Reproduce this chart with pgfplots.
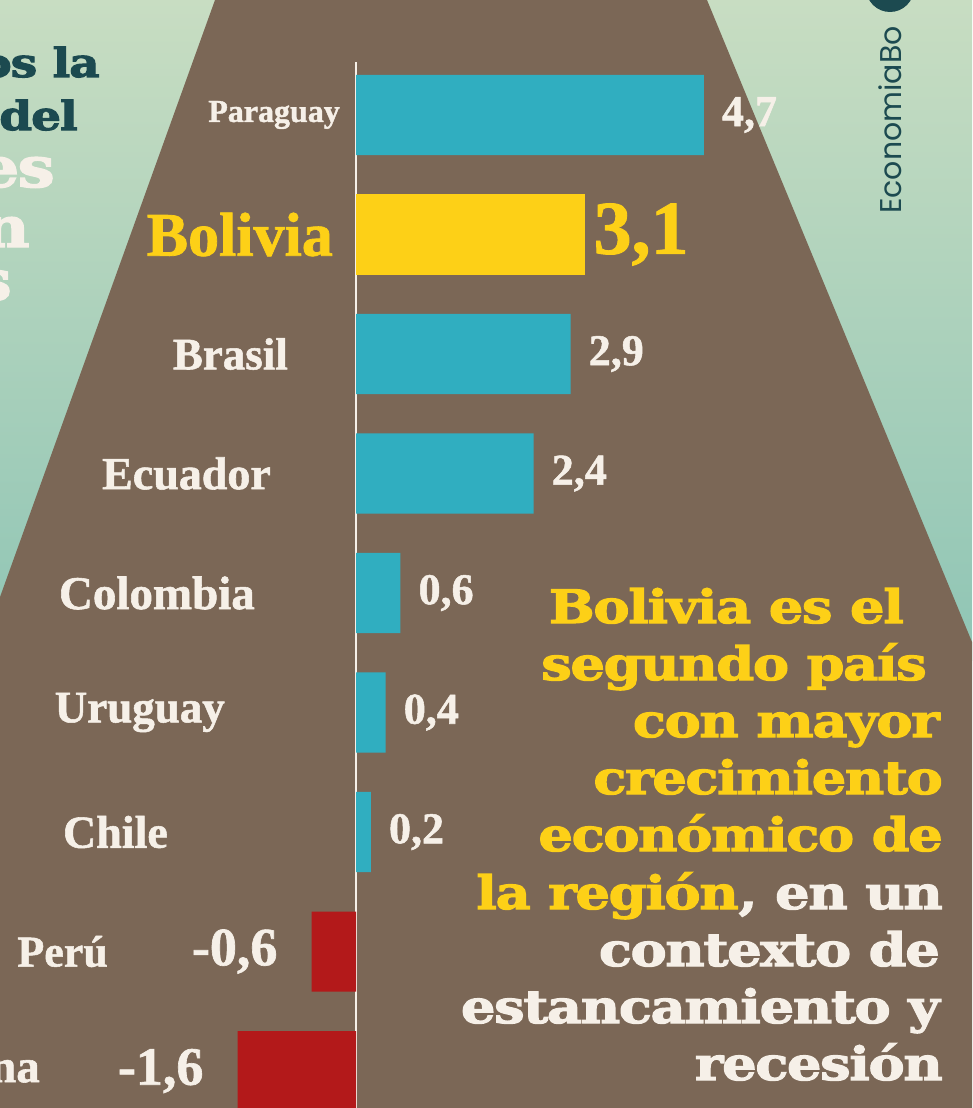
\documentclass[border=0pt]{standalone}
\usepackage{pgfplots}
\pgfplotsset{compat=1.18}
\usepackage{fontspec}
\setmainfont{Liberation Serif}[BoldFeatures={FakeBold=1.2}]
\newfontfamily\annot{DejaVu Serif}[BoldFeatures={FakeBold=2.5, LetterSpace=-3, FakeStretch=1.18}]
\newfontfamily\logofont{Poppins}
\definecolor{bgtop}{HTML}{C8DDC2}
\definecolor{bgbot}{HTML}{8FC5B5}
\definecolor{brownbg}{HTML}{7B6756}
\definecolor{cyanbar}{HTML}{30AEC0}
\definecolor{yelbar}{HTML}{FDD017}
\definecolor{redbar}{HTML}{B3191A}
\definecolor{cream}{HTML}{F6F0E8}
\definecolor{darkteal}{HTML}{1C4A50}
\newcommand{\fs}[1]{\fontsize{#1}{#1}\selectfont}
\begin{document}
\begin{tikzpicture}[x=1pt,y=1pt]
\useasboundingbox (0,0) rectangle (972,-1108);
\clip (0,0) rectangle (972,-1108);
\shade[top color=bgtop, bottom color=bgbot] (0,0) rectangle (972,-660);
\fill[brownbg] (215,0) -- (707,0) -- (972,-642) -- (972,-1108) -- (0,-1108) -- (0,-597) -- cycle;
% cut-off title on the left
\node[anchor=base east, inner sep=0, text=darkteal, font=\annot\bfseries\fs{40}] at (100,-77) {os la};
\node[anchor=base east, inner sep=0, text=darkteal, font=\annot\bfseries\fs{40}] at (78,-130) {del};
\node[anchor=base east, inner sep=0, text=cream, font=\annot\bfseries\fs{56}] at (55,-187) {es};
\node[anchor=base east, inner sep=0, text=cream, font=\annot\bfseries\fs{56}] at (30,-247) {n};
\node[anchor=base east, inner sep=0, text=cream, font=\annot\bfseries\fs{56}] at (12,-300) {s};
% logo
\fill[darkteal] (890,12) circle (24);
\node[rotate=90, text=darkteal, font=\logofont\fs{30}, inner sep=0] at (890,-120) {EconomiaBo};
\begin{axis}[at={(0,0)}, anchor=north west, scale only axis,
  width=972pt, height=1108pt,
  xmin=-4.811, xmax=8.324, ymin=-0.962, ymax=8.310, y dir=reverse,
  axis x line=none, axis y line=center, y axis line style={draw=none},
  xtick=\empty, ytick={0,1,2,3,4,5,6,7,8}, major tick length=0pt,
  yticklabels={
    {\fs{32}Paraguay\kern16pt},
    {\color{yelbar}\fs{62}Bolivia\kern23pt},
    {\fs{45}Brasil\kern68pt},
    {\fs{46}Ecuador\kern85pt},
    {\fs{47}Colombia\kern101pt},
    {\fs{45}Uruguay\kern131pt},
    {\fs{46}Chile\kern188pt},
    {\fs{44}Perú\kern248pt},
    {\fs{47}Argentina\kern316pt}},
  yticklabel style={anchor=east, inner sep=0pt, text=cream, font=\bfseries},
  xbar, bar width=0.67,
  nodes near coords,
  /pgf/number format/use comma,
  /pgf/number format/fixed,
  /pgf/number format/fixed zerofill,
  /pgf/number format/precision=1,
  /pgf/number format/assume math mode=true,
  ]
\draw[cream, line width=2.5pt] (axis cs:0,-0.44) -- (axis cs:0,8.4);
\addplot[fill=cyanbar, draw=none, bar shift=0pt,
  every node near coord/.append style={font=\bfseries\fs{44}, text=cream, inner sep=0pt, xshift=18pt}]
  coordinates {(4.7,0) (2.9,2) (2.4,3) (0.6,4) (0.4,5) (0.2,6)};
\addplot[fill=yelbar, draw=none, bar shift=0pt,
  every node near coord/.append style={font=\bfseries\fs{76}, text=yelbar, inner sep=0pt, xshift=8pt}]
  coordinates {(3.1,1)};
\addplot[fill=redbar, draw=none, bar shift=0pt,
  every node near coord/.append style={font=\bfseries\fs{54}, text=cream, inner sep=0pt, xshift=-34pt}]
  coordinates {(-0.6,7) (-1.6,8)};
\end{axis}
% annotation
\begin{scope}[every node/.style={anchor=base east, inner sep=0, font=\annot\bfseries\fs{46}}]
\node[text=yelbar] at (904,-623) {Bolivia es el};
\node[text=yelbar] at (927,-680) {segundo país};
\node[text=yelbar] at (940,-737) {con mayor};
\node[text=yelbar] at (943,-794) {crecimiento};
\node[text=yelbar] at (943,-851) {económico de};
\node at (943,-909) {\textcolor{yelbar}{la región}\textcolor{cream}{, en un}};
\node[text=cream] at (940,-966) {contexto de};
\node[text=cream] at (940,-1023) {estancamiento y};
\node[text=cream] at (943,-1080) {recesión};
\end{scope}
\end{tikzpicture}
\end{document}
